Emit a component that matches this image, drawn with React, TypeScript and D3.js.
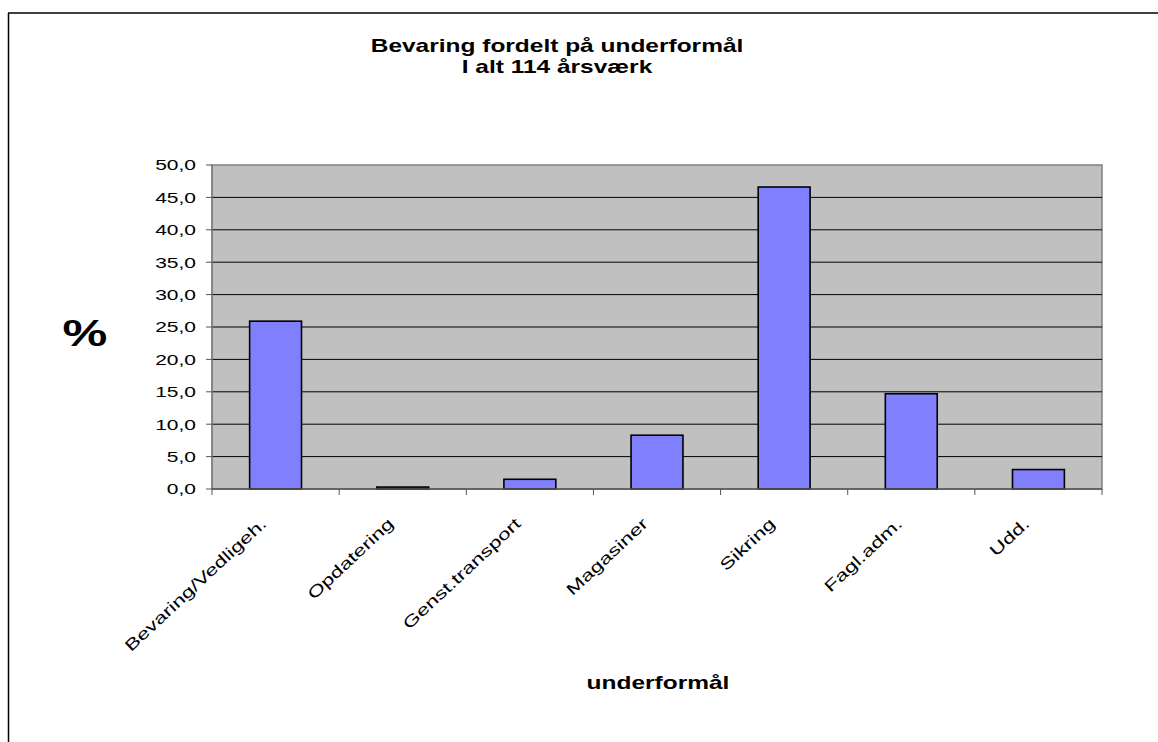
import React from "react";
import * as d3 from "d3";

const categories = ["Bevaring/Vedligeh.", "Opdatering", "Genst.transport", "Magasiner", "Sikring", "Fagl.adm.", "Udd."];
const values = [25.9, 0.3, 1.5, 8.3, 46.6, 14.7, 3.0];
const yTicks = [0, 5, 10, 15, 20, 25, 30, 35, 40, 45, 50];
const titleLines = ["Bevaring fordelt på underformål", "I alt 114 årsværk"];
const xTitle = "underformål";
const yTitle = "%";

const W = 1158;
const H = 742;
const plot = { left: 212, right: 1102, top: 165, bottom: 489 };
const font = "'Liberation Sans', Arial, sans-serif";
const SX = 1.4;

export default function App() {
  const x = d3.scaleBand<string>().domain(categories).range([plot.left, plot.right]).paddingInner(0).paddingOuter(0);
  const y = d3.scaleLinear().domain([0, 50]).range([plot.bottom, plot.top]);
  const bw = x.bandwidth() / 2.45;
  const fmt = (v: number) => v.toFixed(1).replace(".", ",");
  const boundaries = d3.range(categories.length + 1).map((i) => plot.left + i * x.step());

  return (
    <svg width={W} height={H} style={{ position: "absolute", left: 0, top: 0, background: "#fff" }}>
      <rect x={0} y={0} width={W} height={H} fill="#fff" />
      {/* chart frame */}
      <line x1={8.5} y1={13} x2={8.5} y2={H + 5} stroke="#000" strokeWidth={1.5} />
      <line x1={8} y1={13} x2={W + 5} y2={13} stroke="#000" strokeWidth={1.5} />

      {/* title */}
      <text transform={`translate(557,52) scale(${SX},1)`} textAnchor="middle" fontFamily={font} fontWeight="bold" fontSize={17.5}>{titleLines[0]}</text>
      <text transform={`translate(557,73) scale(${SX},1)`} textAnchor="middle" fontFamily={font} fontWeight="bold" fontSize={17.5}>{titleLines[1]}</text>

      {/* plot area */}
      <rect x={plot.left} y={plot.top} width={plot.right - plot.left} height={plot.bottom - plot.top} fill="#C0C0C0" stroke="#808080" strokeWidth={1.5} />
      {yTicks.filter((t) => t > 0 && t < 50).map((t) => (
        <line key={t} x1={plot.left} x2={plot.right} y1={y(t)} y2={y(t)} stroke="#000" strokeWidth={1} />
      ))}

      {/* bars */}
      {categories.map((c, i) => {
        const cx = (x(c) as number) + x.bandwidth() / 2;
        return (
          <rect key={c} x={cx - bw / 2} y={y(values[i])} width={bw} height={plot.bottom - y(values[i])} fill="#8080FF" stroke="#000" strokeWidth={1.6} />
        );
      })}

      {/* y axis */}
      <line x1={plot.left} x2={plot.left} y1={plot.top} y2={plot.bottom} stroke="#808080" strokeWidth={1.5} />
      {yTicks.map((t) => (
        <g key={t}>
          <line x1={plot.left - 6} x2={plot.left} y1={y(t)} y2={y(t)} stroke="#555" strokeWidth={1} />
          <text transform={`translate(196,${y(t)}) scale(${SX},1)`} dy="0.36em" textAnchor="end" fontFamily={font} fontSize={15}>{fmt(t)}</text>
        </g>
      ))}

      {/* x axis */}
      <line x1={plot.left} x2={plot.right} y1={plot.bottom} y2={plot.bottom} stroke="#555" strokeWidth={1.5} />
      {boundaries.map((bx, i) => (
        <line key={i} x1={bx} x2={bx} y1={plot.bottom} y2={plot.bottom + 6} stroke="#555" strokeWidth={1} />
      ))}
      {categories.map((c) => {
        const cx = (x(c) as number) + x.bandwidth() / 2;
        return (
          <text key={c} transform={`translate(${cx - 8},${plot.bottom + 36}) rotate(-43) scale(${SX},1)`} textAnchor="end" fontFamily={font} fontSize={16}>{c}</text>
        );
      })}

      {/* axis titles */}
      <text transform={`translate(658,689) scale(${SX},1)`} textAnchor="middle" fontFamily={font} fontWeight="bold" fontSize={17.5}>{xTitle}</text>
      <text transform={`translate(85,346) scale(${SX},1)`} textAnchor="middle" fontFamily={font} fontWeight="bold" fontSize={36}>{yTitle}</text>
    </svg>
  );
}
